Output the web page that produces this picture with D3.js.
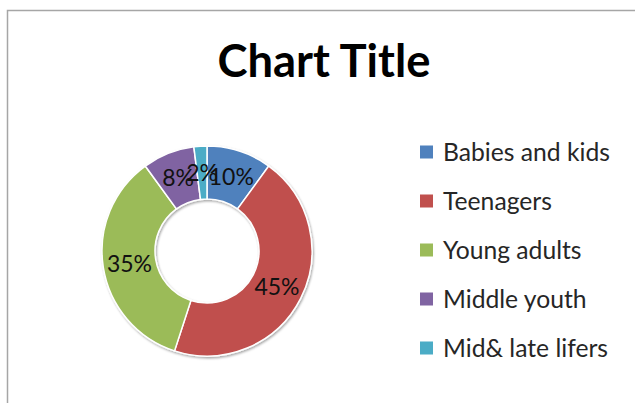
<!DOCTYPE html>
<html>
<head>
<meta charset="utf-8">
<script src="https://cdn.jsdelivr.net/npm/d3@7"></script>
<style>
  html, body { margin: 0; padding: 0; background: #fff; }
  svg { display: block; }
</style>
</head>
<body>
<script>
const categories = ["Babies and kids", "Teenagers", "Young adults", "Middle youth", "Mid& late lifers"];
const values = [10, 45, 35, 8, 2];
const colors = ["#4F81BD", "#C0504D", "#9BBB59", "#8064A2", "#4BACC6"];
const title = "Chart Title";

const W = 635, H = 403;
const svg = d3.select("body").append("svg").attr("width", W).attr("height", H);

// frame (chart area border, clipped by the viewport)
svg.append("rect")
  .attr("x", 7.5).attr("y", 10.5)
  .attr("width", W + 20).attr("height", H + 20)
  .attr("fill", "#fff").attr("stroke", "#a6a6a6").attr("stroke-width", 1.5);

// title
const t = svg.append("text")
  .attr("x", 324).attr("y", 77)
  .attr("text-anchor", "middle")
  .attr("font-family", "Lato, 'Open Sans', sans-serif")
  .attr("font-weight", "bold")
  .attr("font-size", 40)
  .attr("fill", "#000")
  .text(title);
{
  const w = t.node().getComputedTextLength();
  t.attr("font-size", 40 * 213 / w);
}

// filter for subtle shadow
const defs = svg.append("defs");
const f = defs.append("filter").attr("id", "sh").attr("x", "-10%").attr("y", "-10%").attr("width", "120%").attr("height", "120%");
f.append("feDropShadow").attr("dx", 1).attr("dy", 1.5).attr("stdDeviation", 1).attr("flood-color", "#000").attr("flood-opacity", 0.35);

const cx = 207, cy = 251, rOuter = 105, rInner = 52;
const pie = d3.pie().sort(null).value(d => d)(values);
const arc = d3.arc().innerRadius(rInner).outerRadius(rOuter);

const g = svg.append("g").attr("transform", `translate(${cx},${cy})`);
g.append("g").attr("filter", "url(#sh)")
  .selectAll("path").data(pie).join("path")
  .attr("d", arc)
  .attr("fill", (d, i) => colors[i])
  .attr("stroke", "#fff").attr("stroke-width", 1.5);

const total = d3.sum(values);
g.selectAll("text.lbl").data(pie).join("text")
  .attr("class", "lbl")
  .attr("transform", d => `translate(${arc.centroid(d)})`)
  .attr("text-anchor", "middle")
  .attr("dy", "0.36em")
  .attr("font-family", "Lato, 'Open Sans', sans-serif")
  .attr("font-size", 23)
  .attr("fill", "#111")
  .text(d => Math.round(d.data / total * 100) + "%");

// legend
const ly = d3.scalePoint().domain(categories).range([152, 348]);
const lg = svg.append("g");
const items = lg.selectAll("g").data(categories).join("g")
  .attr("transform", d => `translate(420,${ly(d)})`);
items.append("rect")
  .attr("x", 0).attr("y", -6.5).attr("width", 13).attr("height", 13)
  .attr("fill", (d, i) => colors[i]);
const lt = items.append("text")
  .attr("x", 23).attr("dy", "0.36em")
  .attr("font-family", "Lato, 'Open Sans', sans-serif")
  .attr("font-size", 20)
  .attr("fill", "#262626")
  .text(d => d);
{
  const w = lt.nodes()[0].getComputedTextLength();
  lt.attr("font-size", 20 * 167 / w);
}
</script>
</body>
</html>
